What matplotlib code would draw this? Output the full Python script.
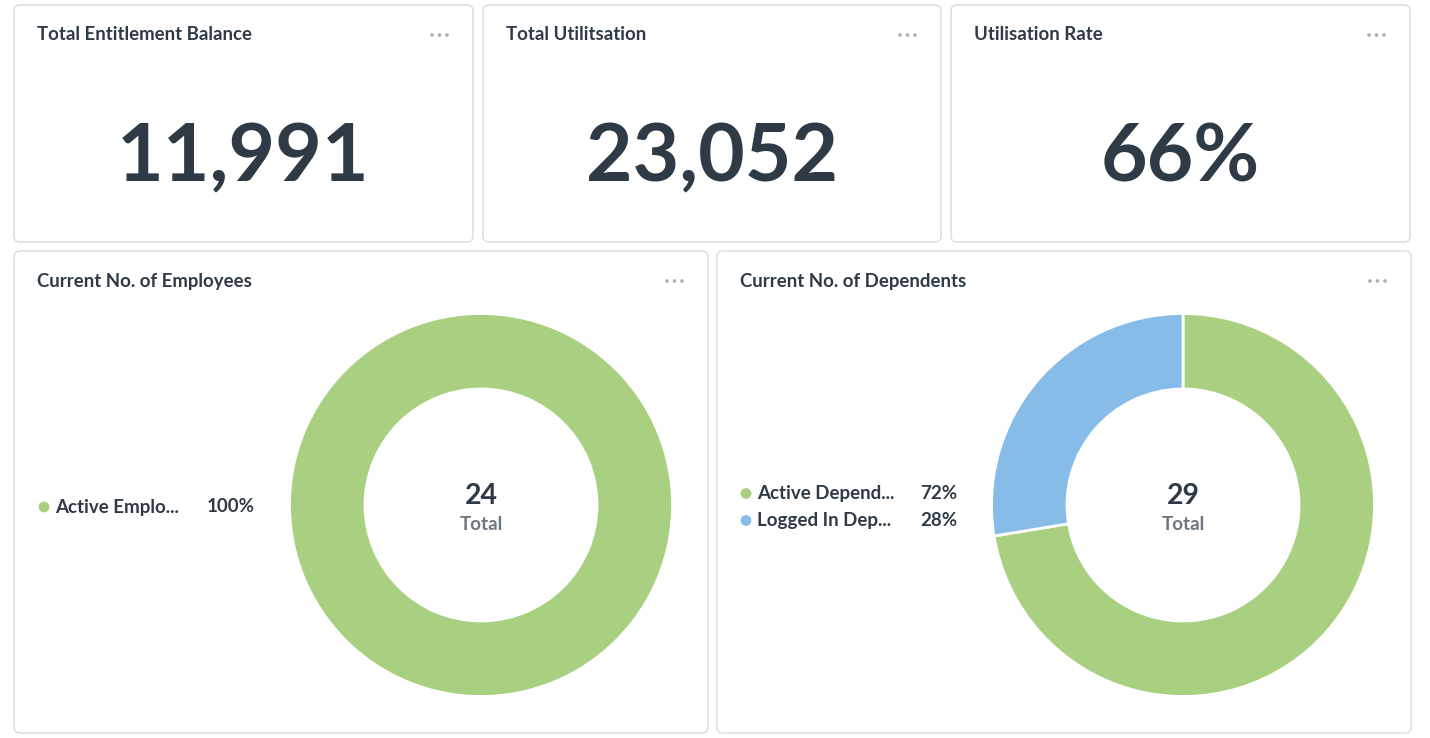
import matplotlib
matplotlib.use('Agg')
import matplotlib.pyplot as plt
from matplotlib.patches import FancyBboxPatch

plt.rcParams['font.family'] = ['Lato', 'DejaVu Sans']

# KPI cards
kpi_titles = ['Total Entitlement Balance', 'Total Utilitsation', 'Utilisation Rate']
kpi_values = ['11,991', '23,052', '66%']

# donut cards
donut_titles = ['Current No. of Employees', 'Current No. of Dependents']
emp_labels = ['Active Emplo...']
emp_counts = [24]
dep_labels = ['Active Depend...', 'Logged In Dep...']
dep_counts = [21, 8]

GREEN = '#a8d080'
BLUE = '#88bce8'
TEXT = '#2e3b46'
BORDER = '#dddddd'

W, H = 1430, 738
fig = plt.figure(figsize=(W / 100, H / 100), dpi=100)
fig.patch.set_facecolor('white')
bg = fig.add_axes([0, 0, 1, 1])
bg.set_xlim(0, W)
bg.set_ylim(H, 0)
bg.axis('off')


def card(x0, y0, x1, y1, title):
    box = FancyBboxPatch((x0, y0), x1 - x0, y1 - y0,
                         boxstyle='round,pad=0,rounding_size=6',
                         facecolor='white', edgecolor=BORDER, linewidth=1.1)
    bg.add_patch(box)
    bg.text(x0 + 23, y0 + 30, title, fontsize=13.4, fontweight='bold',
            color=TEXT, va='center', ha='left')
    # menu dots
    bg.scatter([x1 - 41, x1 - 33.5, x1 - 26], [y0 + 30] * 3, s=7,
               color='#a9b0b6', edgecolors='none', zorder=3)


top_x = [(14, 473), (483, 941), (951, 1410)]
for (x0, x1), t, v in zip(top_x, kpi_titles, kpi_values):
    card(x0, 5, x1, 242, t)
    bg.text((x0 + x1) / 2, 158, v, fontsize=58, fontweight='bold',
            color=TEXT, ha='center', va='center')

bottom_x = [(14, 708), (717, 1411)]
for (x0, x1), t in zip(bottom_x, donut_titles):
    card(x0, 251, x1, 733, t)


def donut(cx, cy, counts, colors, labels, leg_x, pct_x):
    r_out, r_in = 191.5, 116
    pad = 4
    ax = fig.add_axes([(cx - r_out - pad) / W, (H - cy - r_out - pad) / H,
                       2 * (r_out + pad) / W, 2 * (r_out + pad) / H])
    lim = (r_out + pad) / r_out
    ax.pie(counts, colors=colors, startangle=90, counterclock=False,
           radius=1, wedgeprops=dict(width=(r_out - r_in) / r_out,
                                     edgecolor='white', linewidth=2))
    ax.set_xlim(-lim, lim)
    ax.set_ylim(-lim, lim)
    ax.axis('off')
    total = sum(counts)
    bg.text(cx, cy - 9, str(total), fontsize=20.5, fontweight='bold',
            color=TEXT, ha='center', va='center')
    bg.text(cx, cy + 19, 'Total', fontsize=13.5, fontweight='bold',
            color='#6b7680', ha='center', va='center')
    n = len(counts)
    ys = [cy + 2 + (i - (n - 1) / 2) * 27 for i in range(n)]
    for y, lab, c, col in zip(ys, labels, counts, colors):
        bg.scatter([leg_x], [y], s=60, color=col, edgecolors='none')
        bg.text(leg_x + 11, y, lab, fontsize=13.5, fontweight='bold',
                color=TEXT, ha='left', va='center')
        bg.text(pct_x, y, f'{round(100 * c / total)}%', fontsize=13.5,
                fontweight='bold', color=TEXT, ha='left', va='center')


donut(481, 505, emp_counts, [GREEN], emp_labels, 44, 207)
donut(1183, 505, dep_counts, [GREEN, BLUE], dep_labels, 746, 920)

fig.savefig('out.png', dpi=100, facecolor='white')
